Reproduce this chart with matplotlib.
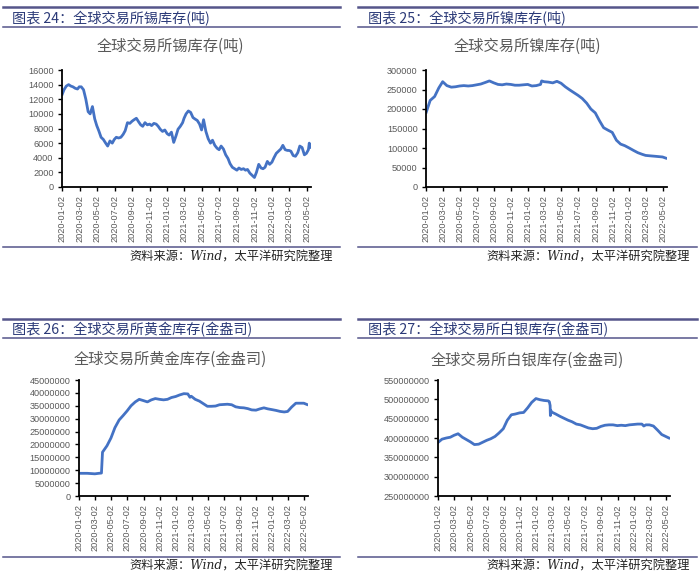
import matplotlib
matplotlib.use("Agg")
import matplotlib.pyplot as plt
from matplotlib.lines import Line2D
from matplotlib.ticker import FuncFormatter
import pandas as pd

plt.rcParams['font.family'] = ['Noto Sans CJK SC', 'DejaVu Sans']

# ---------------- data ----------------
TICK_LABELS = ["2020-01-02", "2020-03-02", "2020-05-02", "2020-07-02", "2020-09-02",
               "2020-11-02", "2021-01-02", "2021-03-02", "2021-05-02", "2021-07-02",
               "2021-09-02", "2021-11-02", "2022-01-02", "2022-03-02", "2022-05-02"]

HEADERS = ["图表 24：全球交易所锡库存(吨)", "图表 25：全球交易所镍库存(吨)",
           "图表 26：全球交易所黄金库存(金盎司)", "图表 27：全球交易所白银库存(金盎司)"]
TITLES = ["全球交易所锡库存(吨)", "全球交易所镍库存(吨)",
          "全球交易所黄金库存(金盎司)", "全球交易所白银库存(金盎司)"]
SOURCE = "资料来源：Wind，太平洋研究院整理"

TIN_DATES = [
    "2020-01-02", "2020-01-08", "2020-01-16", "2020-01-24",
    "2020-02-01", "2020-02-08", "2020-02-16", "2020-02-24",
    "2020-03-01", "2020-03-08", "2020-03-16", "2020-03-24",
    "2020-04-01", "2020-04-08", "2020-04-16", "2020-04-24",
    "2020-05-01", "2020-05-08", "2020-05-16", "2020-05-24",
    "2020-06-01", "2020-06-08", "2020-06-16", "2020-06-24",
    "2020-07-01", "2020-07-08", "2020-07-16", "2020-07-24",
    "2020-08-01", "2020-08-08", "2020-08-16", "2020-08-24",
    "2020-09-01", "2020-09-08", "2020-09-16", "2020-09-24",
    "2020-10-01", "2020-10-08", "2020-10-16", "2020-10-24",
    "2020-11-01", "2020-11-08", "2020-11-16", "2020-11-24",
    "2020-12-01", "2020-12-08", "2020-12-16", "2020-12-24",
    "2021-01-01", "2021-01-08", "2021-01-16", "2021-01-24",
    "2021-02-01", "2021-02-08", "2021-02-16", "2021-02-24",
    "2021-03-01", "2021-03-08", "2021-03-16", "2021-03-24",
    "2021-04-01", "2021-04-08", "2021-04-16", "2021-04-24",
    "2021-05-01", "2021-05-08", "2021-05-16", "2021-05-24",
    "2021-06-01", "2021-06-08", "2021-06-16", "2021-06-24",
    "2021-07-01", "2021-07-08", "2021-07-16", "2021-07-24",
    "2021-08-01", "2021-08-08", "2021-08-16", "2021-08-24",
    "2021-09-01", "2021-09-08", "2021-09-16", "2021-09-24",
    "2021-10-01", "2021-10-08", "2021-10-16", "2021-10-24",
    "2021-11-01", "2021-11-08", "2021-11-16", "2021-11-24",
    "2021-12-01", "2021-12-08", "2021-12-16", "2021-12-24",
    "2022-01-01", "2022-01-08", "2022-01-16", "2022-01-24",
    "2022-02-01", "2022-02-08", "2022-02-16", "2022-02-24",
    "2022-03-01", "2022-03-08", "2022-03-16", "2022-03-24",
    "2022-04-01", "2022-04-08", "2022-04-16", "2022-04-24",
    "2022-05-01", "2022-05-08", "2022-05-11", "2022-05-13"]
TIN_VALUES = [
    12700, 13300, 13800, 14000,
    13800, 13700, 13500, 13400,
    13700, 13700, 13300, 12000,
    10300, 10000, 11000, 9300,
    8400, 7700, 6800, 6500,
    6000, 5600, 6300, 6000,
    6500, 6800, 6700, 6800,
    7200, 7700, 8800, 8700,
    9000, 9200, 9400, 8900,
    8500, 8300, 8800, 8500,
    8600, 8400, 8700, 8600,
    8300, 7900, 7600, 7800,
    7300, 7100, 7500, 6100,
    7000, 7900, 8300, 8800,
    9400, 10000, 10400, 10200,
    9500, 9300, 9100, 8600,
    7800, 9200, 7600, 6600,
    6000, 6400, 5700, 5300,
    5100, 5600, 5200, 4400,
    3900, 3200, 2700, 2500,
    2300, 2600, 2400, 2500,
    2300, 2400, 1900, 1600,
    1300, 2000, 3100, 2600,
    2500, 2700, 3500, 3100,
    3400, 4000, 4600, 4900,
    5200, 5700, 5100, 5000,
    5000, 4900, 4300, 4200,
    4700, 5600, 5400, 4400,
    4600, 5100, 6000, 5400]

NICKEL_DATES = [
    "2020-01-02", "2020-01-16", "2020-02-01", "2020-02-16", "2020-03-01", "2020-03-16",
    "2020-04-01", "2020-04-16", "2020-05-01", "2020-05-16", "2020-06-01", "2020-06-16",
    "2020-07-01", "2020-07-16", "2020-08-01", "2020-08-16", "2020-09-01", "2020-09-16",
    "2020-10-01", "2020-10-16", "2020-11-01", "2020-11-16", "2020-12-01", "2020-12-16",
    "2021-01-01", "2021-01-16", "2021-02-01", "2021-02-16", "2021-02-20", "2021-03-01",
    "2021-03-16", "2021-04-01", "2021-04-16", "2021-05-01", "2021-05-16", "2021-06-01",
    "2021-06-16", "2021-07-01", "2021-07-16", "2021-08-01", "2021-08-16", "2021-09-01",
    "2021-09-16", "2021-10-01", "2021-10-16", "2021-11-01", "2021-11-16", "2021-12-01",
    "2021-12-16", "2022-01-01", "2022-01-16", "2022-02-01", "2022-02-16", "2022-03-01",
    "2022-03-16", "2022-04-01", "2022-04-16", "2022-05-01", "2022-05-13"]
NICKEL_VALUES = [
    192000, 222000, 232000, 254000, 270000, 260000,
    256000, 257000, 259000, 260000, 259000, 260000,
    262000, 264000, 268000, 272000, 267000, 263000,
    262000, 264000, 263000, 261000, 261000, 262000,
    263000, 259000, 260000, 263000, 272000, 270000,
    269000, 267000, 271000, 266000, 257000, 249000,
    242000, 235000, 227000, 215000, 200000, 190000,
    170000, 152000, 146000, 140000, 120000, 110000,
    106000, 100000, 94000, 88000, 84000, 81000,
    80000, 79000, 78000, 77000, 74000]

GOLD_DATES = [
    "2020-01-02", "2020-01-16", "2020-02-01", "2020-02-16", "2020-03-01", "2020-03-16",
    "2020-03-26", "2020-03-30", "2020-04-16", "2020-05-01", "2020-05-16", "2020-06-01",
    "2020-06-16", "2020-07-01", "2020-07-16", "2020-08-01", "2020-08-16", "2020-09-01",
    "2020-09-16", "2020-10-01", "2020-10-16", "2020-11-01", "2020-11-16", "2020-12-01",
    "2020-12-16", "2021-01-01", "2021-01-16", "2021-02-01", "2021-02-16", "2021-02-24",
    "2021-03-01", "2021-03-16", "2021-04-01", "2021-04-16", "2021-05-01", "2021-05-16",
    "2021-06-01", "2021-06-16", "2021-07-01", "2021-07-16", "2021-08-01", "2021-08-16",
    "2021-09-01", "2021-09-16", "2021-10-01", "2021-10-16", "2021-11-01", "2021-11-16",
    "2021-12-01", "2021-12-16", "2022-01-01", "2022-01-16", "2022-02-01", "2022-02-16",
    "2022-03-01", "2022-03-16", "2022-04-01", "2022-04-16", "2022-05-01", "2022-05-13"]
GOLD_VALUES = [
    8800000, 8800000, 8800000, 8700000, 8600000, 8800000,
    8900000, 17000000, 19500000, 22500000, 26500000, 29500000,
    31200000, 33000000, 35000000, 36500000, 37500000, 37000000,
    36500000, 37300000, 37800000, 37500000, 37300000, 37500000,
    38200000, 38600000, 39200000, 39700000, 39600000, 38300000,
    38700000, 37500000, 36800000, 35800000, 34800000, 34800000,
    34900000, 35400000, 35500000, 35600000, 35400000, 34600000,
    34300000, 34200000, 33900000, 33400000, 33300000, 33800000,
    34200000, 33800000, 33500000, 33200000, 32800000, 32600000,
    32800000, 34500000, 36000000, 36000000, 36000000, 35500000]

SILVER_DATES = [
    "2020-01-02", "2020-01-16", "2020-02-01", "2020-02-16", "2020-03-01", "2020-03-16",
    "2020-04-01", "2020-04-16", "2020-05-01", "2020-05-16", "2020-06-01", "2020-06-16",
    "2020-07-01", "2020-07-16", "2020-08-01", "2020-08-16", "2020-09-01", "2020-09-16",
    "2020-10-01", "2020-10-16", "2020-11-01", "2020-11-16", "2020-12-01", "2020-12-16",
    "2021-01-01", "2021-01-16", "2021-02-01", "2021-02-16", "2021-02-20", "2021-02-23",
    "2021-02-24", "2021-02-25", "2021-03-01", "2021-03-16", "2021-04-01", "2021-04-16",
    "2021-05-01", "2021-05-16", "2021-06-01", "2021-06-16", "2021-07-01", "2021-07-16",
    "2021-08-01", "2021-08-16", "2021-09-01", "2021-09-16", "2021-10-01", "2021-10-16",
    "2021-11-01", "2021-11-16", "2021-12-01", "2021-12-16", "2022-01-01", "2022-01-16",
    "2022-02-01", "2022-02-08", "2022-02-16", "2022-03-01", "2022-03-16", "2022-04-01",
    "2022-04-16", "2022-05-01", "2022-05-13"]
SILVER_VALUES = [
    389e6, 397e6, 400e6, 402e6, 407e6, 411e6,
    402e6, 396e6, 390e6, 383e6, 384e6, 389e6,
    394e6, 398e6, 404e6, 413e6, 424e6, 446e6,
    460e6, 462e6, 465e6, 466e6, 478e6, 492e6,
    502e6, 499e6, 497e6, 496e6, 494e6, 484e6,
    458e6, 472e6, 467e6, 462e6, 456e6, 451e6,
    446e6, 442e6, 436e6, 434e6, 430e6, 426e6,
    424e6, 425e6, 430e6, 433e6, 434e6, 434e6,
    432e6, 433e6, 432e6, 434e6, 435e6, 436e6,
    436e6, 431e6, 434e6, 434e6, 431e6, 420e6,
    409e6, 404e6, 400e6]

Y_TICKS = [
    [0, 2000, 4000, 6000, 8000, 10000, 12000, 14000, 16000],
    [0, 50000, 100000, 150000, 200000, 250000, 300000],
    [0, 5000000, 10000000, 15000000, 20000000, 25000000, 30000000, 35000000,
     40000000, 45000000],
    [250000000, 300000000, 350000000, 400000000, 450000000, 500000000, 550000000],
]

SERIES = [(TIN_DATES, TIN_VALUES), (NICKEL_DATES, NICKEL_VALUES),
          (GOLD_DATES, GOLD_VALUES), (SILVER_DATES, SILVER_VALUES)]

# ---------------- layout / style ----------------
W, H = 700, 587
LINE_COLOR = "#4472C4"
RULE_COLOR = "#55558A"
HEAD_COLOR = "#2B3A78"
GREY = "#595959"

fig = plt.figure(figsize=(W / 100, H / 100), dpi=100)
fig.patch.set_facecolor("white")


def fx(x):
    return x / W


def fy(y):
    return 1 - y / H


def rule(x0, x1, y, lw):
    fig.add_artist(Line2D([fx(x0), fx(x1)], [fy(y), fy(y)],
                          transform=fig.transFigure, lw=lw, color=RULE_COLOR))


# per panel layout: (rule x0, rule x1, top rule y, header y, under rule y, header x,
#                    title cx, title y, axes (l, t, r, b), source rule y, source right x, source y)
LAYOUT = [
    (3, 340, 7, 19, 27, 12, 170, 46, (62, 70, 311, 187), 247, 333, 257),
    (358, 697, 7, 19, 27, 368, 527, 46, (426, 70, 667, 187), 247, 690, 257),
    (3, 340, 319, 330, 338, 12, 170, 359, (79, 380, 308, 496), 557, 333, 566),
    (358, 697, 319, 330, 338, 368, 527, 360, (438, 380, 670, 496), 557, 690, 566),
]

tick_pos = pd.to_datetime(TICK_LABELS)
xmin = pd.Timestamp("2020-01-01")
xmax = pd.Timestamp("2022-05-17")

for i, (dates, values) in enumerate(SERIES):
    rx0, rx1, ty, hy, uy, hx, tcx, tcy, (l, t, r, b), sy, srx, sty = LAYOUT[i]
    rule(rx0, rx1, ty, 1.8)
    rule(rx0, rx1, uy, 1.1)
    rule(rx0, rx1, sy, 1.1)
    fig.text(fx(hx), fy(hy), HEADERS[i], ha="left", va="center", fontsize=10.2,
             color=HEAD_COLOR)
    fig.text(fx(tcx), fy(tcy), TITLES[i], ha="center", va="center", fontsize=11,
             color=GREY)
    fig.text(fx(srx), fy(sty), SOURCE, ha="right", va="center", fontsize=8.8,
             color="#222222", style="italic",
             family=["DejaVu Serif", "Noto Sans CJK SC"])

    ax = fig.add_axes([fx(l), fy(b), (r - l) / W, (b - t) / H])
    ax.plot(pd.to_datetime(dates), values, color=LINE_COLOR, lw=2.0,
            solid_joinstyle="round")
    ax.set_xlim(xmin, xmax)
    yt = Y_TICKS[i]
    ax.set_ylim(yt[0], yt[-1])
    ax.set_yticks(yt)
    ax.yaxis.set_major_formatter(FuncFormatter(lambda v, p: f"{int(round(v))}"))
    ax.set_xticks(tick_pos)
    ax.set_xticklabels(TICK_LABELS, rotation=90)
    for s in ("top", "right"):
        ax.spines[s].set_visible(False)
    for s in ("left", "bottom"):
        ax.spines[s].set_linewidth(1.3)
        ax.spines[s].set_color("black")
    ax.tick_params(axis="both", direction="out", length=3, width=1.0,
                   colors="black", labelcolor=GREY, labelsize=6.6, pad=3)
    for lab in ax.get_xticklabels() + ax.get_yticklabels():
        lab.set_family("Liberation Sans")
    ax.set_facecolor("white")

fig.savefig("out.png", dpi=100, facecolor="white")
